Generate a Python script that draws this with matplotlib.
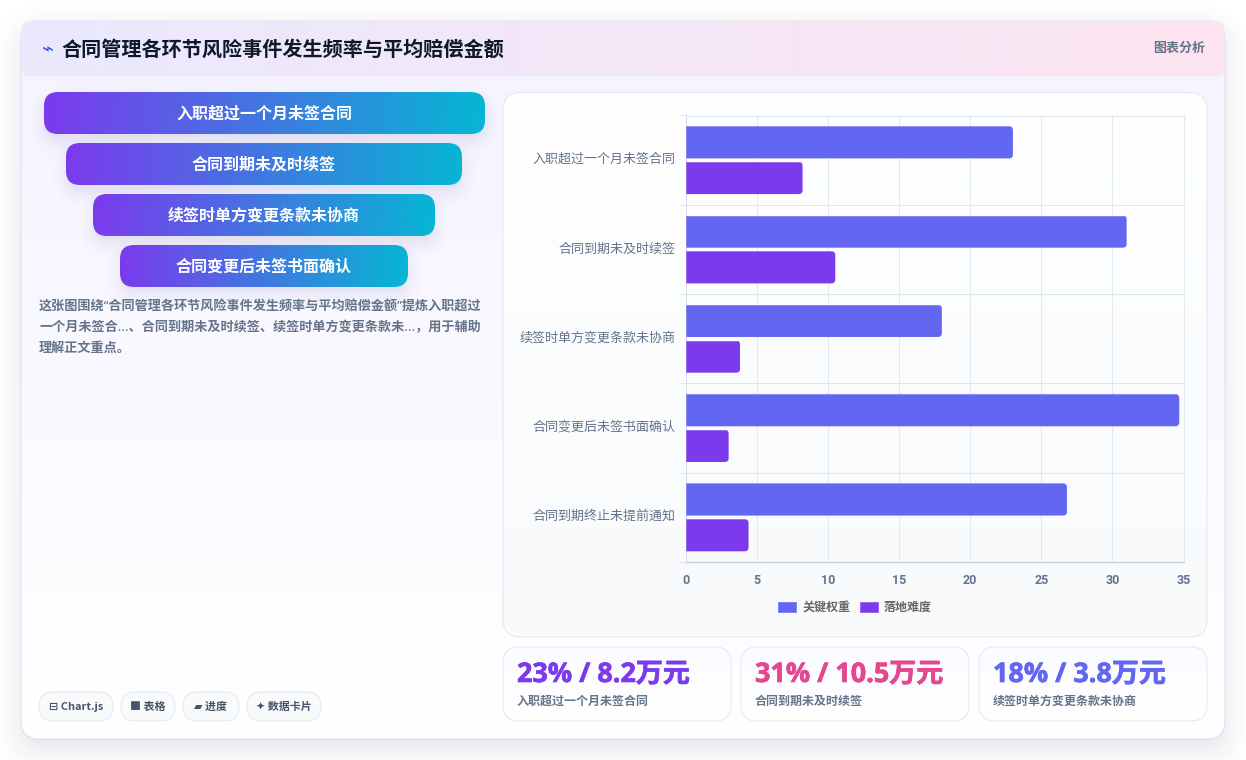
import numpy as np
import matplotlib
matplotlib.use("Agg")
import matplotlib.pyplot as plt
import matplotlib.patheffects as pe
from matplotlib.colors import to_rgb
from matplotlib.patches import FancyBboxPatch
from matplotlib.path import Path
from matplotlib.transforms import ScaledTranslation

plt.rcParams['font.family'] = ['Noto Sans CJK SC', 'DejaVu Sans']
LATIN_FIRST = ['Noto Sans', 'Noto Sans CJK SC', 'DejaVu Sans']

title = "合同管理各环节风险事件发生频率与平均赔偿金额"
categories = ["入职超过一个月未签合同", "合同到期未及时续签", "续签时单方变更条款未协商",
              "合同变更后未签书面确认", "合同到期终止未提前通知"]
weight = [23, 31, 18, 34.7, 26.8]
difficulty = [8.2, 10.5, 3.8, 3.0, 4.4]
series_names = ["关键权重", "落地难度"]
x_ticks = [0, 5, 10, 15, 20, 25, 30, 35]
funnel_labels = categories[:4]
desc_lines = ["这张图围绕“合同管理各环节风险事件发生频率与平均赔偿金额”提炼入职超过",
              "一个月未签合...、合同到期未及时续签、续签时单方变更条款未...，用于辅助",
              "理解正文重点。"]
chip_labels = ["⊟ Chart.js", "■ 表格", "▰ 进度", "✦ 数据卡片"]
stat_values = ["23% / 8.2万元", "31% / 10.5万元", "18% / 3.8万元"]
stat_names = categories[:3]

W, H = 1246, 760
INDIGO = "#6366f1"
PURPLE = "#7c3aed"
CYAN = "#06b6d4"
PINK = "#e4468f"
SLATE = "#64748b"
LINE = 0.72  # one pixel at dpi 100


def px(size):
    return size * 0.72


def box_patch(x0, y0, x1, y1, r, **kw):
    return FancyBboxPatch((x0 + r, y0 + r), x1 - x0 - 2 * r, y1 - y0 - 2 * r,
                          boxstyle="round,pad=%f,rounding_size=%f" % (r, r), **kw)


def gradient(ax, x0, y0, x1, y1, r, c0, c1, angle=0, z=1, edge=None):
    # linear gradient clipped to a rounded box, angle in degrees from the x direction
    n = 200
    xx, yy = np.meshgrid(np.linspace(0, 1, n), np.linspace(0, 1, n))
    a = np.radians(angle)
    dx, dy = np.cos(a) * (x1 - x0), np.sin(a) * (y1 - y0)
    t = xx * dx * np.cos(a) + yy * dy * np.sin(a)
    t = (t - t.min()) / (t.max() - t.min())
    img = np.zeros((n, n, 3))
    for i in range(3):
        img[:, :, i] = to_rgb(c0)[i] + (to_rgb(c1)[i] - to_rgb(c0)[i]) * t
    im = ax.imshow(img, extent=(x0, x1, y1, y0), aspect='auto', zorder=z, interpolation='bilinear')
    clip = box_patch(x0, y0, x1, y1, r, transform=ax.transData, fc='none', ec='none')
    ax.add_patch(clip)
    im.set_clip_path(clip)
    if edge:
        ax.add_patch(box_patch(x0, y0, x1, y1, r, fc='none', ec=edge, lw=LINE, zorder=z + 0.1))


def shadow(ax, x0, y0, x1, y1, r, blur, alpha, dy=0, color="#1e1b4b", z=0.5):
    # soft shadow from the signed distance to a rounded box
    pad = blur + 2
    ex0, ex1, ey0, ey1 = x0 - pad, x1 + pad, y0 - pad + dy, y1 + pad + dy
    xs = np.arange(ex0, ex1, 1.0)
    ys = np.arange(ey0, ey1, 1.0)
    xx, yy = np.meshgrid(xs, ys)
    cx, cy = (x0 + x1) / 2, (y0 + y1) / 2 + dy
    qx = np.abs(xx - cx) - ((x1 - x0) / 2 - r)
    qy = np.abs(yy - cy) - ((y1 - y0) / 2 - r)
    d = np.hypot(np.maximum(qx, 0), np.maximum(qy, 0)) + np.minimum(np.maximum(qx, qy), 0) - r
    s = np.clip(1 - (d + blur * 0.3) / (blur * 1.3), 0, 1)
    img = np.zeros(xx.shape + (4,))
    img[:, :, :3] = to_rgb(color)
    img[:, :, 3] = alpha * s * s
    ax.imshow(img, extent=(ex0, ex1, ey1, ey0), aspect='auto', zorder=z, interpolation='bilinear')


fig = plt.figure(figsize=(W / 100, H / 100), dpi=100, facecolor='white')
bg = fig.add_axes([0, 0, 1, 1])
bg.axis('off')

# card with its header band
shadow(bg, 21, 21, 1225, 739, 18, 36, 0.10, dy=10)
gradient(bg, 21, 21, 1225, 739, 18, "#f5f3ff", "#ffffff", angle=90, z=1, edge="#dfdcf3")
gradient(bg, 21.5, 21.5, 1224.5, 76, 8, "#ebe9fe", "#fce4f0", angle=0, z=1.2)

bg.text(47.5, 50, "⌁", color="#3b5bdb", fontsize=px(20), ha='center', va='center', zorder=3,
        family='DejaVu Sans')
bg.text(61.5, 49.5, title, color="#0f172a", fontsize=px(20.1), fontweight='bold', va='center', zorder=3)
bg.text(1205, 48, "图表分析", color=SLATE, fontsize=px(13), fontweight='bold', ha='right', va='center', zorder=3)

# funnel rows
funnel_x = [(44, 485), (66, 462), (93, 435), (120, 408)]
funnel_y = [92, 143, 194, 245]
for (x0, x1), y0 in zip(funnel_x, funnel_y):
    shadow(bg, x0, y0, x1, y0 + 42, 14, 20, 0.10, dy=7, color="#312e81", z=1.5)
for (x0, x1), y0, label in zip(funnel_x, funnel_y, funnel_labels):
    gradient(bg, x0, y0, x1, y0 + 42, 14, PURPLE, CYAN, angle=15, z=2)
    bg.text((x0 + x1) / 2, y0 + 21.5, label, color='white', fontsize=px(16), fontweight='bold',
            ha='center', va='center', zorder=3)

for i, line in enumerate(desc_lines):
    bg.text(39, 307 + i * 20.6, line, color=SLATE, fontsize=px(13.1), fontweight='bold', va='center',
            zorder=3, family=LATIN_FIRST)

# chips under the text column
chip_x = [(39, 113), (121, 175), (183, 239), (247, 321)]
for (x0, x1), label in zip(chip_x, chip_labels):
    bg.add_patch(box_patch(x0, 692, x1, 721, 14.5, fc="#f8fafc", ec="#e2e8f0", lw=LINE, zorder=2))
    bg.text((x0 + x1) / 2, 706.5, label, color="#475569", fontsize=px(11), fontweight='bold',
            ha='center', va='center', zorder=3)

# panel behind the bars
gradient(bg, 503, 92.5, 1207, 637, 18, "#ffffff", "#f8fafc", angle=90, z=1.5, edge="#e2e8f0")

# stat cards
stat_x = [(503, 731), (741, 969), (979, 1207)]
stat_colors = [PURPLE, PINK, INDIGO]
for (x0, x1), val, name, col in zip(stat_x, stat_values, stat_names, stat_colors):
    gradient(bg, x0, 647, x1, 721, 16, "#fbfcff", "#ffffff", angle=90, z=1.5, edge="#e2e8f0")
    t = bg.text(x0 + 14, 675, val, color=col, fontsize=px(27), fontweight='bold', va='center', zorder=3,
                family=['Open Sans', 'Noto Sans CJK SC', 'DejaVu Sans'])
    t.set_path_effects([pe.withStroke(linewidth=0.5, foreground=col)])
    bg.text(x0 + 14, 701, name, color=SLATE, fontsize=px(12), fontweight='bold', va='center', zorder=3)

bg.set_xlim(0, W)
bg.set_ylim(H, 0)

# bar chart
left, right, top, bottom = 686, 1183.5, 115.5, 562
ax = fig.add_axes([left / W, 1 - bottom / H, (right - left) / W, (bottom - top) / H])
ax.patch.set_alpha(0)
y = np.arange(len(categories))
bars_a = ax.barh(y - 0.2, weight, height=0.36, color=INDIGO, edgecolor="#8486f5", lw=LINE, zorder=3,
                 label=series_names[0])
bars_b = ax.barh(y + 0.2, difficulty, height=0.36, color=PURPLE, edgecolor="#9a66f0", lw=LINE, zorder=3,
                 label=series_names[1])
ax.set_xlim(0, 35)
ax.set_ylim(len(categories) - 0.5, -0.5)

# round the free end of each bar, 4 px in data units
rx, ry = 4 / ((right - left) / 35), 4 / ((bottom - top) / len(categories))
for rect in list(bars_a) + list(bars_b):
    x1, y0, h = rect.get_width(), rect.get_y(), rect.get_height()
    verts = [(-1, y0), (x1 - rx, y0), (x1, y0), (x1, y0 + ry), (x1, y0 + h - ry), (x1, y0 + h),
             (x1 - rx, y0 + h), (-1, y0 + h), (-1, y0)]
    codes = [Path.MOVETO, Path.LINETO, Path.CURVE3, Path.CURVE3, Path.LINETO, Path.CURVE3,
             Path.CURVE3, Path.LINETO, Path.CLOSEPOLY]
    rect.set_clip_path(Path(verts, codes), ax.transData)

ax.set_xticks(x_ticks)
ax.set_yticks(y)
ax.set_yticklabels(categories)
ax.set_yticks(np.arange(len(categories) + 1) - 0.5, minor=True)
ax.tick_params(axis='y', which='major', length=0, pad=7.4, labelsize=px(13), labelcolor=SLATE)
ax.tick_params(axis='y', which='minor', length=5.8, width=LINE, color="#e2e8f0")
ax.tick_params(axis='x', length=0, pad=8.5, labelsize=px(12.5), labelcolor=SLATE)
for lab in ax.get_xticklabels():
    lab.set_fontweight('bold')
    lab.set_family(['Roboto', 'DejaVu Sans'])
# labels sit a little high on their rows
for lab in ax.get_yticklabels():
    lab.set_transform(lab.get_transform() + ScaledTranslation(0, 2.2 / 100, fig.dpi_scale_trans))
ax.grid(True, axis='x', color="#e2e8f0", lw=LINE, zorder=0)
ax.grid(True, axis='y', which='minor', color="#dfe7ec", lw=LINE, zorder=0)
ax.grid(False, axis='y', which='major')
ax.set_axisbelow(True)
for name, sp in ax.spines.items():
    sp.set_color("#e2e8f0")
    sp.set_linewidth(LINE)
ax.spines['bottom'].set_color("#c9d1dd")
ax.spines['bottom'].set_linewidth(1.0)
ax.spines['left'].set_color("#d5dce6")

fig.legend(handles=[bars_a, bars_b], labels=series_names, loc='center', bbox_to_anchor=(855 / W, 1 - 607.5 / H),
           ncol=2, frameon=False, handlelength=1.5, handleheight=1.0, handletextpad=0.5, columnspacing=0.8,
           labelcolor="#666666", prop={'size': px(12), 'weight': 'bold', 'family': ['Noto Sans CJK SC', 'DejaVu Sans']})

fig.savefig("out.png", dpi=100)
